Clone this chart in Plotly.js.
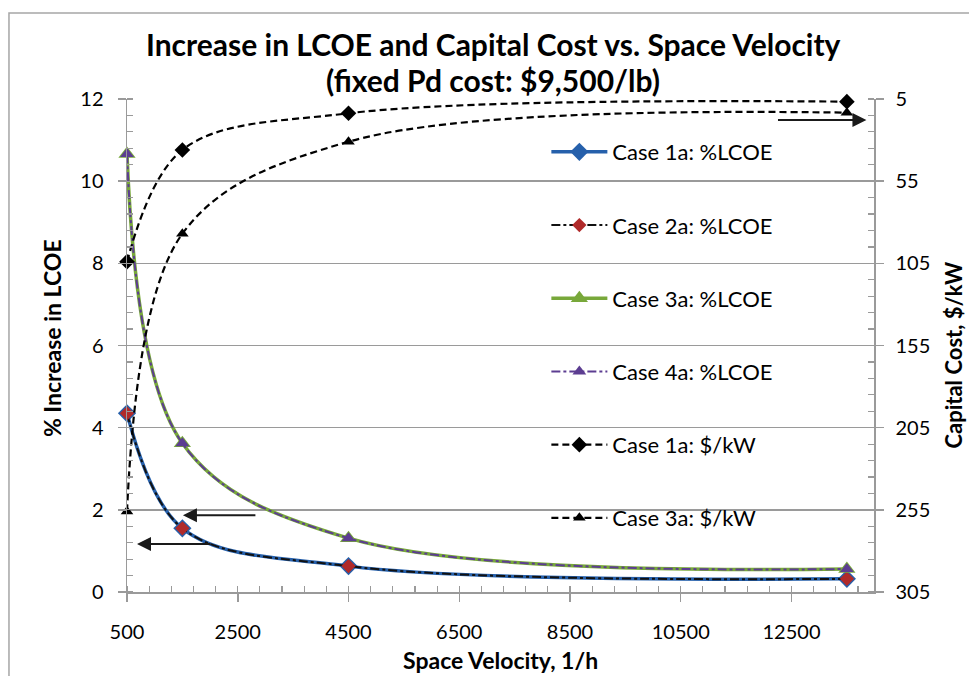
<!DOCTYPE html>
<html>
<head>
<meta charset="utf-8">
<script src="https://cdn.plot.ly/plotly-3.0.1.min.js"></script>
<style>
  html, body { margin: 0; padding: 0; background: #fff; }
  #chart { width: 969px; height: 676px; }
</style>
</head>
<body>
<div id="chart"></div>
<script>
// ---- data ----
const spaceVelocity = [500, 1500, 4500, 13500];
const case1aLCOE = [4.35, 1.55, 0.63, 0.32];
const case2aLCOE = [4.35, 1.55, 0.63, 0.32];
const case3aLCOE = [10.66, 3.62, 1.31, 0.56];
const case4aLCOE = [10.66, 3.62, 1.31, 0.56];
const case1aCost = [104, 36, 13.7, 6.6];
const case3aCost = [256, 87, 31, 13.3];

const xTickVals = [500, 2500, 4500, 6500, 8500, 10500, 12500];
const yTickVals = [0, 2, 4, 6, 8, 10, 12];
const y2TickVals = [5, 55, 105, 155, 205, 255, 305];

const seriesNames = [
  'Case 1a: %LCOE', 'Case 2a: %LCOE', 'Case 3a: %LCOE',
  'Case 4a: %LCOE', 'Case 1a: $/kW', 'Case 3a: $/kW'
];
const titleLine1 = 'Increase in LCOE and Capital Cost vs. Space Velocity';
const titleLine2 = '(fixed Pd cost: $9,500/lb)';

const FONT = 'Lato, "Open Sans", "DejaVu Sans", sans-serif';
const BLUE = '#2660ab', RED = '#b02a2a', GREEN = '#78a83a', PURPLE = '#5c3d91';

const traces = [
  { x: spaceVelocity, y: case1aLCOE, name: seriesNames[0], yaxis: 'y', legendgroup: 'g1',
    mode: 'lines+markers', cliponaxis: false, line: { color: BLUE, width: 3.5, shape: 'spline' },
    marker: { symbol: 'diamond', size: 14, color: BLUE } },
  { x: spaceVelocity, y: case2aLCOE, name: seriesNames[1], yaxis: 'y', legendgroup: 'g2',
    mode: 'lines+markers', cliponaxis: false, line: { color: '#111', width: 2, dash: 'dashdot', shape: 'spline' },
    marker: { symbol: 'diamond', size: 11, color: RED } },
  { x: spaceVelocity, y: case3aLCOE, name: seriesNames[2], yaxis: 'y', legendgroup: 'g3',
    mode: 'lines+markers', cliponaxis: false, line: { color: GREEN, width: 3.5, shape: 'spline' },
    marker: { symbol: 'triangle-up', size: 15, color: GREEN } },
  { x: spaceVelocity, y: case4aLCOE, name: seriesNames[3], yaxis: 'y', legendgroup: 'g4',
    mode: 'lines+markers', cliponaxis: false, line: { color: PURPLE, width: 2, dash: 'dashdot', shape: 'spline' },
    marker: { symbol: 'triangle-up', size: 12, color: PURPLE } },
  { x: spaceVelocity, y: case1aCost, name: seriesNames[4], yaxis: 'y2', legendgroup: 'g5',
    mode: 'lines+markers', cliponaxis: false, line: { color: '#000', width: 2.2, dash: '7px,4px', shape: 'spline' },
    marker: { symbol: 'diamond', size: 12, color: '#000' } },
  { x: spaceVelocity, y: case3aCost, name: seriesNames[5], yaxis: 'y2', legendgroup: 'g6',
    mode: 'lines+markers', cliponaxis: false, line: { color: '#000', width: 2.2, dash: '7px,4px', shape: 'spline' },
    marker: { symbol: 'triangle-up', size: 11, color: '#000' } }
];

const GRID = '#9a9a9a';
const arrowCommon = { text: '', showarrow: true, xref: 'x', yref: 'y', axref: 'x', ayref: 'y',
  arrowhead: 2, arrowsize: 1.4, arrowwidth: 2, arrowcolor: '#1a1a1a' };

const layout = {
  width: 969, height: 676,
  margin: { l: 127, r: 95, t: 99, b: 84 },
  paper_bgcolor: '#fff', plot_bgcolor: '#fff',
  font: { family: FONT, size: 20, color: '#000' },
  showlegend: true,
  title: {
    text: '<b>' + titleLine1 + '</b>',
    font: { family: FONT, size: 30, color: '#000' },
    x: 0.509, xref: 'container', xanchor: 'center',
    y: 0.932, yref: 'container', yanchor: 'middle'
  },
  xaxis: {
    range: [500, 13990], tickvals: xTickVals, ticktext: xTickVals.map(String),
    showgrid: false, zeroline: false, showline: true, linecolor: GRID, linewidth: 1.5,
    ticks: 'outside', ticklen: 8, tickcolor: GRID, tickwidth: 1.5, ticklabelstandoff: 13,
    minor: { dtick: 400, tick0: 500, ticks: 'inside', ticklen: 6, tickcolor: GRID, tickwidth: 1.2, showgrid: false },
    tickfont: { family: FONT, size: 20, color: '#000' }
  },
  yaxis: {
    range: [0, 12], tickvals: yTickVals, ticktext: yTickVals.map(String),
    showgrid: true, gridcolor: GRID, gridwidth: 1.5, zeroline: false,
    showline: true, linecolor: GRID, linewidth: 1.5,
    ticks: 'outside', ticklen: 8, tickcolor: GRID, tickwidth: 1.5, ticklabelstandoff: 10,
    minor: { dtick: 0.4, ticks: 'inside', ticklen: 6, tickcolor: GRID, tickwidth: 1.2, showgrid: false },
    tickfont: { family: FONT, size: 20, color: '#000' }
  },
  yaxis2: {
    overlaying: 'y', side: 'right', range: [305, 5],
    tickvals: y2TickVals, ticktext: y2TickVals.map(String),
    showgrid: false, zeroline: false, showline: true, linecolor: GRID, linewidth: 1.5,
    ticks: 'outside', ticklen: 8, tickcolor: GRID, tickwidth: 1.5, ticklabelstandoff: 8,
    minor: { dtick: 10, tick0: 5, ticks: 'inside', ticklen: 6, tickcolor: GRID, tickwidth: 1.2, showgrid: false },
    tickfont: { family: FONT, size: 20, color: '#000' }
  },
  legend: {
    x: 0.5614, xanchor: 'left', y: 0.935, yanchor: 'top',
    bgcolor: 'rgba(0,0,0,0)', borderwidth: 0,
    traceorder: 'grouped', tracegroupgap: 41.6, itemwidth: 56,
    font: { family: FONT, size: 22, color: '#000' }
  },
  annotations: [
    { text: '<b>' + titleLine2 + '</b>', xref: 'paper', yref: 'paper', x: (493 - 127) / 747, y: 1.0385,
      showarrow: false, xanchor: 'center', yanchor: 'middle',
      font: { family: FONT, size: 30, color: '#000' } },
    { text: '<b>% Increase in LCOE</b>', xref: 'paper', yref: 'paper', x: -0.1004, y: 0.515,
      textangle: -90, showarrow: false, xanchor: 'center', yanchor: 'middle',
      font: { family: FONT, size: 23, color: '#000' } },
    { text: '<b>Capital Cost, $/kW</b>', xref: 'paper', yref: 'paper', x: 1.106, y: 0.48,
      textangle: -90, showarrow: false, xanchor: 'center', yanchor: 'middle',
      font: { family: FONT, size: 22, color: '#000' } },
    { text: '<b>Space Velocity, 1/h</b>', xref: 'paper', yref: 'paper', x: 0.5, y: -0.138,
      showarrow: false, xanchor: 'center', yanchor: 'middle',
      font: { family: FONT, size: 23, color: '#000' } },
    Object.assign({}, arrowCommon, { x: 1510, y: 1.87, ax: 2846, ay: 1.87 }),
    Object.assign({}, arrowCommon, { x: 680, y: 1.17, ax: 2034, ay: 1.17 }),
    Object.assign({}, arrowCommon, { x: 13853, y: 11.49, ax: 12229, ay: 11.49 })
  ],
  shapes: [
    { type: 'path', xref: 'paper', yref: 'paper',
      path: 'M -0.158 -0.3 L -0.158 1.1744 L 1.3 1.1744',
      line: { color: '#a6a6a6', width: 1.5 } }
  ]
};

Plotly.newPlot('chart', traces, layout, { staticPlot: true, displayModeBar: false });
</script>
</body>
</html>
